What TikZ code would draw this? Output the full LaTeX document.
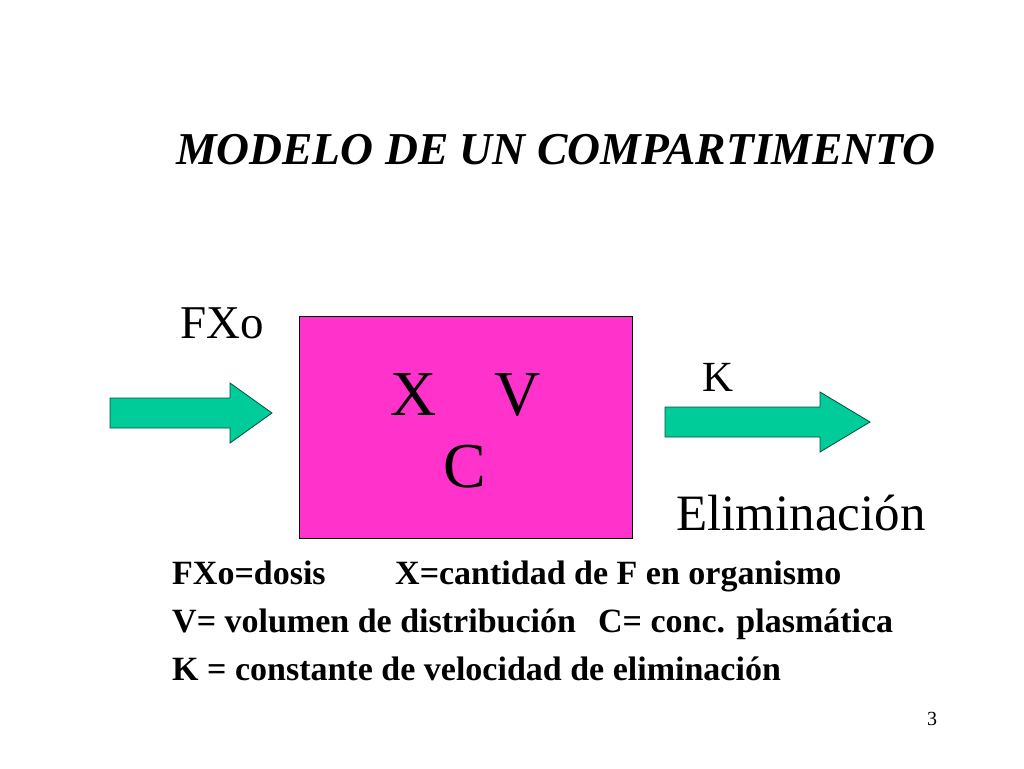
\documentclass[tikz,border=0pt]{standalone}
\usepackage{fontspec}
\setmainfont{Liberation Serif}
\begin{document}
\begin{tikzpicture}[x=1pt,y=-1pt,
 arr/.style={fill={rgb,255:red,0;green,204;blue,153},draw={rgb,255:red,0;green,80;blue,60},line width=0.8pt},
 lbl/.style={inner sep=0pt,anchor=base west,font=\fontsize{34}{36}\selectfont\bfseries}]
\useasboundingbox (0,0) rectangle (1024,768);
\node[inner sep=0pt,anchor=base,font=\fontsize{45.6}{48}\selectfont\bfseries\itshape] (title) at (556,164) {MODELO DE UN COMPARTIMENTO};
\node[draw=black,line width=0.8pt,fill={rgb,255:red,255;green,51;blue,204},minimum width=333pt,minimum height=222pt,inner sep=0pt] (box) at (465.5,427) {};
\node[inner sep=0pt,anchor=base,font=\fontsize{64}{66}\selectfont] (xv) at (466,415) {X\hspace{0.9em}V};
\node[inner sep=0pt,anchor=base,font=\fontsize{64}{66}\selectfont] (c) at (465,487) {C};
\draw[arr] (110,398) -- (230,398) -- (230,383) -- (272,413) -- (230,443) -- (230,428) -- (110,428) -- cycle;
\draw[arr] (665,407) -- (820,407) -- (820,392) -- (870,422) -- (820,452) -- (820,437) -- (665,437) -- cycle;
\node[inner sep=0pt,anchor=base,font=\fontsize{47}{50}\selectfont] (fxo) at (222,338) {FXo};
\node[inner sep=0pt,anchor=base,font=\fontsize{43}{46}\selectfont] (k) at (718,391) {K};
\node[inner sep=0pt,anchor=base,font=\fontsize{51}{54}\selectfont] (elim) at (801,530) {Eliminación};
\node[lbl] (l1a) at (172,584) {FXo=dosis};
\node[lbl] (l1b) at (395,584) {X=cantidad de F en organismo};
\node[lbl] (l2) at (172,632) {V= volumen de distribución\hspace{0.4em} C= conc. plasmática};
\node[lbl] (l3) at (172,680) {K = constante de velocidad de eliminación};
\node[inner sep=0pt,anchor=base,font=\fontsize{20}{22}\selectfont] (num) at (932,725) {3};
\end{tikzpicture}
\end{document}
